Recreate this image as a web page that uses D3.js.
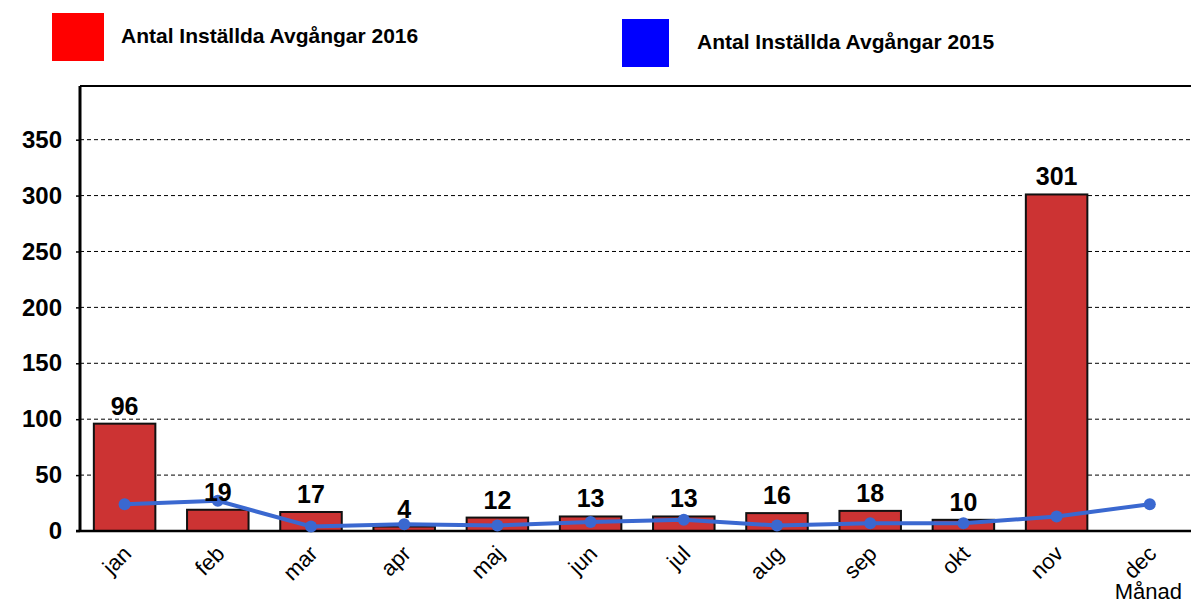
<!DOCTYPE html>
<html>
<head>
<meta charset="utf-8">
<script src="https://cdn.jsdelivr.net/npm/d3@7"></script>
<style>
  body { margin: 0; background: #fff; }
  svg { font-family: Arial, "Liberation Sans", sans-serif; }
</style>
</head>
<body>
<div id="chart"></div>
<script>
// Data
const months = ["jan", "feb", "mar", "apr", "maj", "jun", "jul", "aug", "sep", "okt", "nov", "dec"];
const cancelled2016 = [96, 19, 17, 4, 12, 13, 13, 16, 18, 10, 301, null];
const cancelled2015 = [24, 27, 4, 6, 5, 8, 10, 5, 7, 7, 13, 24];
const yTicks = [0, 50, 100, 150, 200, 250, 300, 350];
const seriesNames = ["Antal Inställda Avgångar 2016", "Antal Inställda Avgångar 2015"];

const width = 1191, height = 605;
const margin = { top: 86, right: 0, bottom: 74, left: 80 };
const yMax = 398;

const svg = d3.select("#chart").append("svg")
  .attr("width", width)
  .attr("height", height);

const x = d3.scaleBand()
  .domain(months)
  .range([margin.left - 2, margin.left - 2 + 12 * 93.2])
  .paddingInner(0.34)
  .paddingOuter(0.17);

const y = d3.scaleLinear()
  .domain([0, yMax])
  .range([height - margin.bottom, margin.top]);

// dashed gridlines
svg.append("g")
  .selectAll("line")
  .data(yTicks.filter(d => d > 0))
  .join("line")
  .attr("x1", margin.left)
  .attr("x2", width)
  .attr("y1", d => y(d))
  .attr("y2", d => y(d))
  .attr("stroke", "#000")
  .attr("stroke-width", 1)
  .attr("stroke-dasharray", "4,3");

// top frame line
svg.append("line")
  .attr("x1", margin.left).attr("x2", width)
  .attr("y1", y(yMax)).attr("y2", y(yMax))
  .attr("stroke", "#000").attr("stroke-width", 2);

// bars
const barData = months.map((m, i) => ({ m, v: cancelled2016[i] })).filter(d => d.v != null);
svg.append("g")
  .selectAll("rect")
  .data(barData)
  .join("rect")
  .attr("x", d => x(d.m))
  .attr("y", d => y(d.v))
  .attr("width", x.bandwidth())
  .attr("height", d => y(0) - y(d.v))
  .attr("fill", "#cc3333")
  .attr("stroke", "#111")
  .attr("stroke-width", 2);

// y axis
const yAxis = svg.append("g")
  .attr("transform", `translate(${margin.left},0)`)
  .call(d3.axisLeft(y).tickValues(yTicks).tickSize(4).tickPadding(14));
yAxis.select(".domain").remove();
yAxis.selectAll("line").attr("stroke", "#000").attr("stroke-width", 1.5);
yAxis.selectAll("text")
  .attr("fill", "#000")
  .style("font-size", "24px")
  .style("font-weight", "bold");

svg.append("line")
  .attr("x1", margin.left).attr("x2", margin.left)
  .attr("y1", y(yMax)).attr("y2", y(0))
  .attr("stroke", "#000").attr("stroke-width", 3);

// x axis
svg.append("line")
  .attr("x1", margin.left - 4).attr("x2", width)
  .attr("y1", y(0)).attr("y2", y(0))
  .attr("stroke", "#000").attr("stroke-width", 2.5);

svg.append("g")
  .selectAll("text")
  .data(months)
  .join("text")
  .attr("transform", d => `translate(${x(d) + x.bandwidth() / 2 + 8},${y(0) + 24}) rotate(-45)`)
  .attr("text-anchor", "end")
  .style("font-size", "22px")
  .text(d => d);

svg.append("text")
  .attr("x", 1182)
  .attr("y", 599)
  .attr("text-anchor", "end")
  .style("font-size", "22px")
  .text("Månad");

// 2015 line
const line = d3.line()
  .x((d, i) => x(months[i]) + x.bandwidth() / 2)
  .y(d => y(d));

svg.append("path")
  .datum(cancelled2015)
  .attr("d", line)
  .attr("fill", "none")
  .attr("stroke", "#3a68d0")
  .attr("stroke-width", 4);

svg.append("g")
  .selectAll("circle")
  .data(cancelled2015)
  .join("circle")
  .attr("cx", (d, i) => x(months[i]) + x.bandwidth() / 2)
  .attr("cy", d => y(d))
  .attr("r", 6)
  .attr("fill", "#3a68d0");

// data labels
svg.append("g")
  .selectAll("text")
  .data(barData)
  .join("text")
  .attr("x", d => x(d.m) + x.bandwidth() / 2)
  .attr("y", d => y(d.v) - 9)
  .attr("text-anchor", "middle")
  .style("font-size", "25px")
  .style("font-weight", "bold")
  .text(d => d.v);

// legend
const legend = [
  { name: seriesNames[0], color: "#ff0000", x: 52, y: 13, w: 52, tx: 121, ty: 43 },
  { name: seriesNames[1], color: "#0000ff", x: 622, y: 19, w: 47, tx: 697, ty: 49 }
];
const lg = svg.append("g").selectAll("g").data(legend).join("g");
lg.append("rect")
  .attr("x", d => d.x).attr("y", d => d.y)
  .attr("width", d => d.w)
  .attr("height", 48)
  .attr("fill", d => d.color);
lg.append("text")
  .attr("x", d => d.tx).attr("y", d => d.ty)
  .style("font-size", "21px")
  .style("font-weight", "bold")
  .text(d => d.name);
</script>
</body>
</html>
